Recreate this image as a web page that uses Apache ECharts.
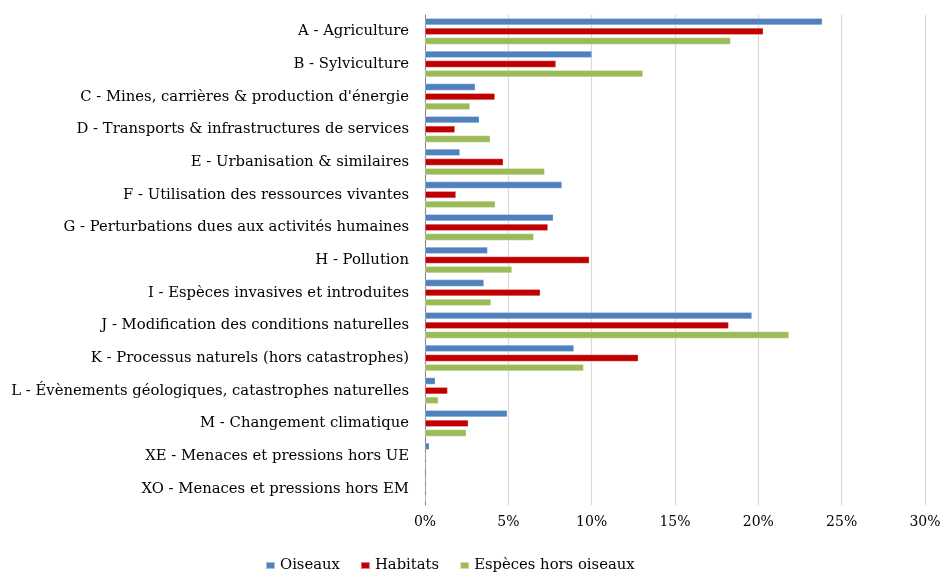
<!DOCTYPE html>
<html>
<head>
<meta charset="utf-8">
<script src="https://cdn.jsdelivr.net/npm/echarts@6/dist/echarts.min.js"></script>
<style>html,body{margin:0;padding:0;background:#fff;}#c{width:944px;height:572px;}</style>
</head>
<body>
<div id="c"></div>
<script>
const categories = [
  "A - Agriculture",
  "B - Sylviculture",
  "C - Mines, carrières & production d'énergie",
  "D - Transports & infrastructures de services",
  "E - Urbanisation & similaires",
  "F - Utilisation des ressources vivantes",
  "G - Perturbations dues aux activités humaines",
  "H - Pollution",
  "I - Espèces invasives et introduites",
  "J - Modification des conditions naturelles",
  "K - Processus naturels (hors catastrophes)",
  "L - Évènements géologiques, catastrophes naturelles",
  "M - Changement climatique",
  "XE - Menaces et pressions hors UE",
  "XO - Menaces et pressions hors EM"
];
const oiseaux = [23.84, 10.02, 3.02, 3.26, 2.1, 8.22, 7.7, 3.76, 3.54, 19.62, 8.94, 0.62, 4.94, 0.26, 0];
const habitats = [20.3, 7.86, 4.2, 1.8, 4.7, 1.86, 7.38, 9.86, 6.92, 18.22, 12.8, 1.36, 2.6, 0, 0];
const especes = [18.34, 13.08, 2.7, 3.92, 7.18, 4.22, 6.52, 5.22, 3.96, 21.84, 9.52, 0.8, 2.48, 0, 0.05];
const seriesNames = ["Oiseaux", "Habitats", "Espèces hors oiseaux"];
const colors = ["#4F81BD", "#C00000", "#9BBB59"];

const font = "'DejaVu Serif', serif";
const chart = echarts.init(document.getElementById('c'));
const mk = (name, data, color) => ({
  name, type: 'bar', data, barWidth: 7, barGap: '38%',
  itemStyle: { color, borderColor: 'rgba(255,255,255,0.5)', borderWidth: 0.6 },
  emphasis: { disabled: true }
});
chart.setOption({
  animation: false,
  color: colors,
  grid: { left: 425, right: 19, top: 15, bottom: 67, containLabel: false },
  legend: {
    top: 558, left: 265, padding: 0, itemWidth: 9, itemHeight: 7, itemGap: 20,
    icon: 'rect',
    textStyle: { fontFamily: font, fontSize: 14.8, color: '#000' },
    data: seriesNames
  },
  xAxis: {
    type: 'value', min: 0, max: 30, interval: 5,
    axisLabel: { formatter: v => v + '%', fontFamily: font, fontSize: 14, color: '#000', margin: 10 },
    axisLine: { show: false }, axisTick: { show: false },
    splitLine: { lineStyle: { color: '#D9D9D9', width: 1.2 } }
  },
  yAxis: {
    type: 'category', data: categories, inverse: true,
    axisLabel: { fontFamily: font, fontSize: 14.8, color: '#000', margin: 16 },
    axisLine: { lineStyle: { color: '#868686' } },
    axisTick: { length: 5, lineStyle: { color: '#868686' } }
  },
  series: [
    mk(seriesNames[0], oiseaux, colors[0]),
    mk(seriesNames[1], habitats, colors[1]),
    mk(seriesNames[2], especes, colors[2])
  ]
});
</script>
</body>
</html>
